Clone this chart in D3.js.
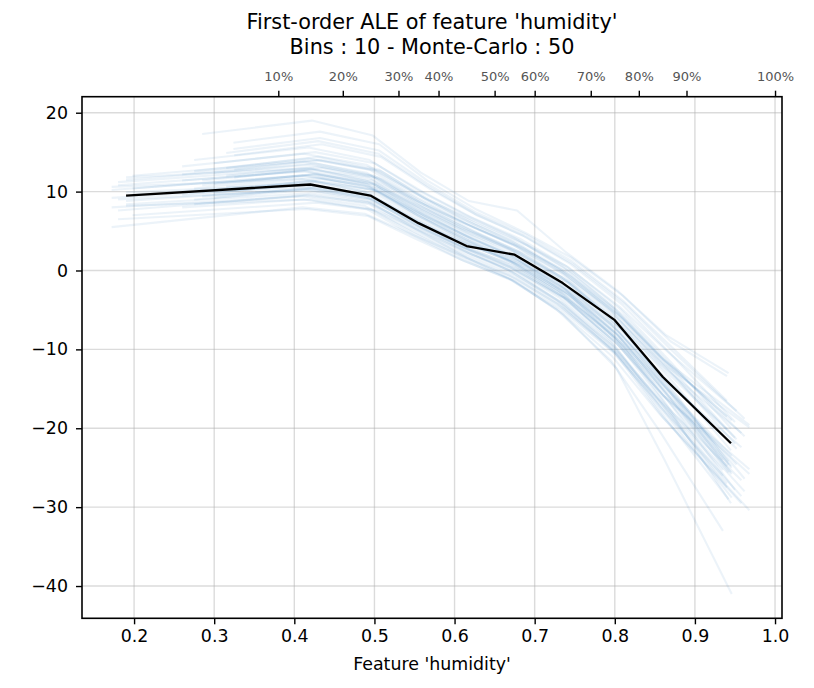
<!DOCTYPE html>
<html>
<head>
<meta charset="utf-8">
<script src="https://cdn.jsdelivr.net/npm/d3@7"></script>
<style>
  body { margin: 0; background: #fff; }
  svg { display: block; font-family: "DejaVu Sans", sans-serif; }
</style>
</head>
<body>
<svg id="chart" width="814" height="688"></svg>
<script>
// ---- data -------------------------------------------------------------
const titleLines = ["First-order ALE of feature 'humidity'", "Bins : 10 - Monte-Carlo : 50"];
const xLabel = "Feature 'humidity'";

const xTicks = [0.2, 0.3, 0.4, 0.5, 0.6, 0.7, 0.8, 0.9, 1.0];
const yTicks = [20, 10, 0, -10, -20, -30, -40];

// bin edges (quantiles of humidity) shown on the top axis
const quantileLabels = ["10%", "20%", "30%", "40%", "50%", "60%", "70%", "80%", "90%", "100%"];
const quantileValues = [0.380, 0.4605, 0.530, 0.580, 0.650, 0.700, 0.770, 0.830, 0.8895, 1.000];

// ALE on the full data (bin centres and effect)
const aleX = [0.190, 0.420, 0.495, 0.555, 0.615, 0.675, 0.735, 0.800, 0.860, 0.945];
const aleY = [9.5, 10.9, 9.5, 6.0, 3.1, 2.0, -1.6, -6.3, -13.5, -21.9];

// bin centres of the Monte-Carlo subsamples
const mcGrids = [
  [0.172, 0.410, 0.488, 0.548, 0.610, 0.668, 0.728, 0.795, 0.855, 0.935],
  [0.180, 0.415, 0.492, 0.552, 0.612, 0.672, 0.733, 0.798, 0.858, 0.940],
  [0.190, 0.420, 0.496, 0.556, 0.616, 0.676, 0.736, 0.802, 0.862, 0.946],
  [0.198, 0.428, 0.502, 0.562, 0.622, 0.680, 0.740, 0.806, 0.866, 0.952],
  [0.260, 0.412, 0.490, 0.550, 0.608, 0.670, 0.730, 0.796, 0.856, 0.958],
  [0.275, 0.418, 0.494, 0.554, 0.614, 0.674, 0.734, 0.800, 0.860, 0.968],
  [0.285, 0.422, 0.498, 0.558, 0.618, 0.678, 0.738, 0.804, 0.864, 0.942],
  [0.300, 0.426, 0.500, 0.560, 0.620, 0.682, 0.742, 0.808, 0.868, 0.945],
  [0.315, 0.430, 0.505, 0.565, 0.625, 0.686, 0.745, 0.810, 0.870, 0.950],
  [0.325, 0.434, 0.508, 0.568, 0.628, 0.690, 0.748, 0.812, 0.872, 0.962],
  [0.324, 0.432, 0.506, 0.566, 0.626, 0.688, 0.746, 0.810, 0.870, 0.940]
];

// which grid each Monte-Carlo curve uses
const mcGridIndex = [0, 1, 2, 3, 0, 1, 2, 3, 1, 2, 0, 3, 1, 2, 0, 3, 1, 2,
                     4, 5, 6, 7, 8, 9, 4, 5, 6, 10, 8, 7, 4, 5, 6, 7, 8, 9,
                     4, 5, 6, 7, 8, 9, 4, 5, 6, 7, 0, 2, 9, 10];

// ALE effect of each Monte-Carlo curve
const mcValues = [
  [5.5, 8.0, 7.2, 4.5, 1.8, -0.6, -4.2, -9.8, -16.5, -26.0],
  [7.6, 9.5, 8.6, 5.6, 2.9, 0.8, -2.9, -8.4, -15.0, -24.8],
  [8.8, 10.4, 9.1, 6.0, 3.3, 1.0, -2.6, -8.0, -14.6, -23.5],
  [9.6, 11.3, 10.2, 7.0, 4.0, 1.6, -2.0, -7.4, -13.9, -22.6],
  [10.2, 12.0, 10.8, 7.6, 4.6, 2.0, -1.5, -6.8, -13.0, -21.0],
  [10.8, 12.6, 11.3, 8.2, 5.2, 2.6, -0.8, -6.0, -12.2, -20.2],
  [11.5, 13.4, 12.0, 8.7, 5.8, 3.1, -0.4, -5.4, -11.5, -19.0],
  [12.0, 14.0, 12.6, 9.2, 6.4, 3.8, 0.5, -4.6, -10.3, -17.8],
  [9.0, 10.2, 8.8, 5.4, 2.4, -0.2, -4.0, -9.6, -16.8, -27.5],
  [8.2, 9.0, 7.8, 4.6, 1.6, -1.0, -4.8, -10.6, -18.0, -28.8],
  [10.6, 11.6, 10.0, 6.6, 3.6, 1.2, -2.4, -7.8, -14.4, -24.0],
  [7.0, 8.6, 7.6, 4.8, 2.0, -0.2, -3.6, -8.8, -15.2, -24.6],
  [11.2, 12.9, 11.8, 8.8, 6.0, 3.4, 0.2, -4.8, -11.0, -18.5],
  [9.9, 11.0, 9.6, 6.3, 3.0, 0.4, -3.4, -9.2, -16.0, -25.8],
  [9.2, 10.6, 9.4, 6.0, 2.8, 0.0, -3.8, -9.4, -16.4, -25.3],
  [10.4, 12.2, 11.0, 7.9, 5.0, 2.4, -1.2, -6.4, -12.6, -21.4],
  [6.5, 7.8, 6.9, 4.0, 1.2, -1.2, -4.9, -10.4, -17.2, -27.0],
  [11.8, 13.0, 11.2, 7.6, 4.4, 1.6, -2.2, -8.0, -15.2, -25.0],
  [8.0, 9.0, 7.8, 4.4, 1.4, -1.2, -5.0, -10.8, -18.2, -29.5],
  [9.0, 10.2, 9.0, 5.8, 2.8, 0.2, -3.4, -9.0, -15.8, -25.2],
  [10.0, 11.4, 10.2, 6.8, 3.8, 1.2, -2.4, -7.8, -14.6, -24.2],
  [11.0, 12.2, 10.9, 7.6, 4.6, 2.0, -1.6, -7.0, -13.6, -22.8],
  [12.0, 13.2, 11.8, 8.4, 5.4, 2.8, -0.8, -6.2, -12.8, -22.0],
  [12.8, 14.0, 12.6, 9.0, 5.9, 3.2, -0.4, -5.8, -12.2, -21.0],
  [13.2, 14.8, 13.4, 9.8, 6.6, 3.8, 0.2, -5.2, -11.8, -20.6],
  [14.0, 15.6, 14.0, 10.2, 7.0, 4.2, 0.6, -4.8, -11.2, -19.6],
  [17.3, 19.0, 17.1, 12.4, 8.8, 7.6, 2.4, -2.6, -8.2, -13.0],
  [16.2, 17.6, 16.0, 11.4, 7.8, 4.8, 1.6, -3.2, -9.0, -13.4],
  [14.9, 16.4, 14.8, 10.8, 7.2, 4.4, 0.8, -4.4, -10.6, -19.2],
  [13.6, 15.0, 13.6, 10.0, 6.8, 4.0, 0.4, -5.0, -11.4, -20.0],
  [9.6, 10.8, 9.6, 6.2, 3.0, 0.4, -3.4, -9.2, -16.4, -26.6],
  [10.4, 12.0, 10.6, 7.0, 3.8, 1.0, -2.8, -8.6, -15.8, -25.8],
  [11.4, 12.8, 11.4, 7.8, 4.6, 1.8, -2.0, -7.6, -14.8, -24.6],
  [12.4, 13.6, 12.0, 8.2, 5.0, 2.2, -1.6, -7.4, -14.6, -24.8],
  [10.6, 11.8, 10.4, 6.8, 3.6, 0.8, -3.2, -9.4, -17.0, -27.8],
  [11.8, 13.0, 11.6, 8.0, 4.8, 2.0, -1.8, -7.8, -15.4, -26.4],
  [12.2, 13.8, 12.4, 8.6, 5.4, 2.6, -1.2, -6.8, -13.4, -22.4],
  [8.4, 9.6, 8.4, 5.0, 2.0, -0.6, -4.4, -10.4, -18.6, -30.4],
  [9.4, 10.4, 9.0, 5.4, 2.2, -0.4, -4.4, -10.6, -18.8, -29.0],
  [9.8, 11.2, 9.8, 6.4, 3.2, 0.6, -3.0, -8.6, -15.4, -25.6],
  [13.0, 14.4, 12.8, 9.0, 5.8, 3.0, -0.6, -6.0, -12.4, -21.2],
  [10.2, 11.6, 10.0, 6.4, 3.2, 0.4, -3.6, -9.8, -18.0, -28.0],
  [11.4, 12.6, 11.0, 7.2, 4.0, 1.2, -2.8, -9.0, -17.2, -28.6],
  [12.6, 14.2, 12.8, 9.2, 6.0, 3.2, -0.4, -5.6, -11.8, -19.9],
  [10.8, 12.2, 10.8, 7.4, 4.2, 1.4, -2.4, -8.2, -15.6, -25.6],
  [9.2, 10.6, 9.2, 5.8, 2.6, 0.0, -3.8, -9.8, -17.6, -29.5],
  [8.0, 9.4, 8.2, 4.8, 1.6, -1.0, -5.0, -11.4, -20.2, -33.0],
  [8.4, 9.8, 8.6, 5.0, 1.6, -1.4, -5.6, -12.4, -24.0, -41.0],
  [14.6, 16.0, 14.4, 10.4, 7.0, 4.2, 0.8, -4.2, -10.2, -18.8],
  [15.4, 16.8, 15.2, 11.0, 7.4, 4.6, 1.2, -3.8, -9.6, -16.5]
];

// ---- layout -----------------------------------------------------------
const svg = d3.select("#chart");
const plot = { left: 82, right: 782, top: 96.7, bottom: 618.3 };

const x = d3.scaleLinear().domain([0.135, 1.0087]).range([plot.left, plot.right]);
const y = d3.scaleLinear().domain([-44.09, 22.03]).range([plot.bottom, plot.top]);

const tickFont = 17.4;

// clip for the data marks
svg.append("defs").append("clipPath").attr("id", "plot-clip")
  .append("rect")
  .attr("x", plot.left).attr("y", plot.top)
  .attr("width", plot.right - plot.left).attr("height", plot.bottom - plot.top);

// ---- grid -------------------------------------------------------------
const grid = svg.append("g").attr("stroke", "#b0b0b0").attr("stroke-opacity", 0.45).attr("stroke-width", 1.4);
grid.selectAll("line.gx").data(xTicks).join("line")
  .attr("x1", d => x(d)).attr("x2", d => x(d))
  .attr("y1", plot.top).attr("y2", plot.bottom);
grid.selectAll("line.gy").data(yTicks).join("line")
  .attr("x1", plot.left).attr("x2", plot.right)
  .attr("y1", d => y(d)).attr("y2", d => y(d));

// ---- Monte-Carlo curves -------------------------------------------------
const line = d3.line().x(d => x(d[0])).y(d => y(d[1]));
const marks = svg.append("g").attr("clip-path", "url(#plot-clip)");

const mcCurves = mcValues.map((vals, i) => vals.map((v, j) => [mcGrids[mcGridIndex[i]][j], v]));
marks.selectAll("path.mc").data(mcCurves).join("path")
  .attr("class", "mc")
  .attr("d", line)
  .attr("fill", "none")
  .attr("stroke", "#1f77b4")
  .attr("stroke-opacity", 0.085)
  .attr("stroke-width", 2.1)
  .attr("stroke-linejoin", "round");

// ---- ALE curve ----------------------------------------------------------
marks.append("path")
  .datum(aleX.map((v, i) => [v, aleY[i]]))
  .attr("d", line)
  .attr("fill", "none")
  .attr("stroke", "#000")
  .attr("stroke-width", 2.3)
  .attr("stroke-linejoin", "round");

// ---- axes ---------------------------------------------------------------
const xAxis = svg.append("g").attr("transform", `translate(0,${plot.bottom})`)
  .call(d3.axisBottom(x).tickValues(xTicks).tickFormat(d3.format(".1f")).tickSizeOuter(0).tickSize(6).tickPadding(5));
const yAxis = svg.append("g").attr("transform", `translate(${plot.left},0)`)
  .call(d3.axisLeft(y).tickValues(yTicks).tickFormat(d => d < 0 ? "\u2212" + Math.abs(d) : d).tickSizeOuter(0).tickSize(6).tickPadding(8));
const topAxis = svg.append("g").attr("transform", `translate(0,${plot.top})`)
  .call(d3.axisTop(x).tickValues(quantileValues).tickFormat((d, i) => quantileLabels[i]).tickSizeOuter(0).tickSize(6).tickPadding(10));

[xAxis, yAxis].forEach(g => {
  g.select(".domain").remove();
  g.selectAll(".tick line").attr("stroke", "#000").attr("stroke-width", 1.4);
  g.selectAll(".tick text").attr("fill", "#000").attr("font-size", tickFont)
    .attr("font-family", "DejaVu Sans, sans-serif");
});
topAxis.select(".domain").remove();
topAxis.selectAll(".tick line").attr("stroke", "#000").attr("stroke-width", 1.4);
topAxis.selectAll(".tick text").attr("fill", "#555").attr("font-size", 13)
  .attr("font-family", "DejaVu Sans, sans-serif");

// frame
svg.append("rect")
  .attr("x", plot.left).attr("y", plot.top)
  .attr("width", plot.right - plot.left).attr("height", plot.bottom - plot.top)
  .attr("fill", "none").attr("stroke", "#000").attr("stroke-width", 1.6);

// ---- labels -------------------------------------------------------------
const cx = (plot.left + plot.right) / 2;
svg.append("text").attr("x", cx).attr("y", 670).attr("text-anchor", "middle")
  .attr("font-size", tickFont).attr("fill", "#000").text(xLabel);

svg.selectAll("text.title").data(titleLines).join("text")
  .attr("class", "title")
  .attr("x", cx).attr("y", (d, i) => 29 + i * 25)
  .attr("text-anchor", "middle")
  .attr("font-size", 20.8).attr("fill", "#000")
  .text(d => d);
</script>
</body>
</html>
